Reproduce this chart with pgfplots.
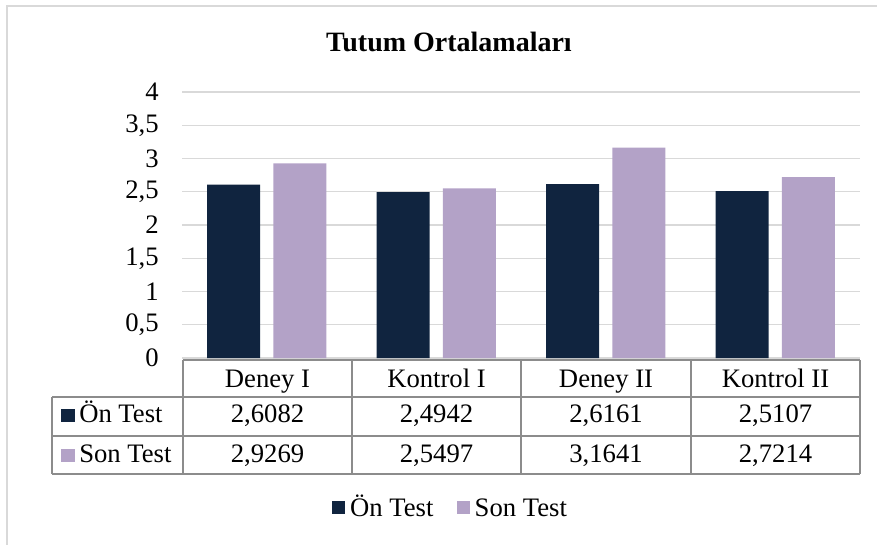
\documentclass[border=0pt]{standalone}
\usepackage{pgfplots}
\pgfplotsset{compat=1.18}
\usepackage{fontspec}
\setmainfont{Liberation Serif}
\definecolor{navy}{HTML}{10243F}
\definecolor{lav}{HTML}{B3A2C7}
\definecolor{gridc}{HTML}{D9D9D9}
\definecolor{tabc}{HTML}{8C8C8C}
\begin{document}
\begin{tikzpicture}
\begin{scope}[x=0.75pt,y=-0.75pt]
\path[use as bounding box] (0,0) rectangle (877,545);
\draw[gridc, line width=1.2pt] (7,545) -- (7,6) -- (877,6);
\node[font=\fontsize{21}{25}\selectfont\bfseries, anchor=base] at (449,52) {Tutum Ortalamaları};
\end{scope}
\begin{axis}[
  at={(136.5pt,-268.5pt)}, anchor=south west,
  scale only axis, width=508.5pt, height=199.5pt,
  ybar=10pt, bar width=39.75pt,
  xmin=-0.5, xmax=3.5, ymin=0, ymax=4,
  xtick=\empty,
  ytick={0,0.5,...,4},
  ymajorgrids, major grid style={gridc, line width=1.1pt},
  axis line style={draw=none}, tick style={draw=none},
  yticklabel style={font=\fontsize{20}{22}\selectfont, /pgf/number format/.cd, use comma, fixed, assume math mode=true},
  yticklabel shift=14pt,
  clip=false,
  legend image code/.code={\fill[#1] (0pt,-3pt) rectangle (10pt,7pt);},
  legend style={at={(0.398,-0.571)}, anchor=center, draw=none, fill=none,
    font=\fontsize{20}{23}\selectfont, legend columns=2,
    nodes={text height=14pt, text depth=4pt, inner xsep=3.5pt},
    /tikz/every even column/.append style={column sep=14pt}},
]
\addplot[fill=navy, draw=none] coordinates {(0,2.6082) (1,2.4942) (2,2.6161) (3,2.5107)};
\addplot[fill=lav, draw=none] coordinates {(0,2.9269) (1,2.5497) (2,3.1641) (3,2.7214)};
\legend{Ön Test, Son Test}
\end{axis}
\begin{scope}[x=0.75pt,y=-0.75pt]
\draw[tabc, line width=1.1pt] (183,360) -- (860,360);
\draw[tabc, line width=1.1pt] (52,397) -- (860,397);
\draw[tabc, line width=1.1pt] (52,436) -- (860,436);
\draw[tabc, line width=1.1pt] (52,474) -- (860,474);
\draw[tabc, line width=1.1pt] (52,397) -- (52,474);
\foreach \xx in {183,352,521,691,860} \draw[tabc, line width=1.1pt] (\xx,360) -- (\xx,474);
\begin{scope}[every node/.style={font=\fontsize{20}{23}\selectfont, inner sep=0pt, anchor=base}]
\node at (267.5,387) {Deney I};
\node at (436.5,387) {Kontrol I};
\node at (606,387) {Deney II};
\node at (775.5,387) {Kontrol II};
\node[anchor=base west] at (61,422) {\textcolor{navy}{\rule{10pt}{10pt}}\hspace{3.5pt}Ön Test};
\node[anchor=base west] at (61,462) {\textcolor{lav}{\rule{10pt}{10pt}}\hspace{3.5pt}Son Test};
\node at (267.5,422) {2,6082};
\node at (436.5,422) {2,4942};
\node at (606,422) {2,6161};
\node at (775.5,422) {2,5107};
\node at (267.5,462) {2,9269};
\node at (436.5,462) {2,5497};
\node at (606,462) {3,1641};
\node at (775.5,462) {2,7214};
\end{scope}
\end{scope}
\end{tikzpicture}
\end{document}
